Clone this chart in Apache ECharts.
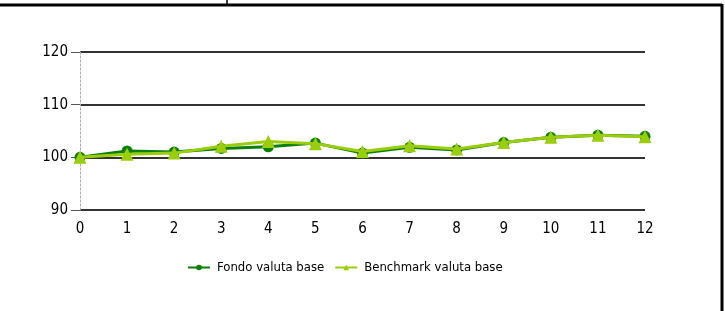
<!DOCTYPE html>
<html>
<head>
<meta charset="utf-8">
<script src="https://cdn.jsdelivr.net/npm/echarts@6/dist/echarts.min.js"></script>
<style>
  html, body { margin: 0; padding: 0; background: #fff; }
  #main { width: 725px; height: 311px; }
</style>
</head>
<body>
<div id="main"></div>
<script>
var categories = ['0', '1', '2', '3', '4', '5', '6', '7', '8', '9', '10', '11', '12'];
var fondo = [100, 101.2, 101.0, 101.7, 102.0, 102.7, 100.8, 101.9, 101.4, 102.8, 103.8, 104.2, 104.0];
var benchmark = [100, 100.6, 100.8, 102.1, 103.0, 102.6, 101.1, 102.2, 101.6, 102.8, 103.8, 104.2, 103.9];

var chart = echarts.init(document.getElementById('main'));
var fontFamily = '"Liberation Sans Narrow", "DejaVu Sans Condensed", sans-serif';

var option = {
  animation: false,
  backgroundColor: '#fff',
  color: ['#0a7f0a', '#9acd0c'],
  textStyle: { fontFamily: fontFamily },
  grid: { left: 80, right: 80, top: 52, bottom: 101 },
  legend: {
    bottom: 37,
    left: 187,
    padding: 0,
    itemWidth: 22,
    itemHeight: 7,
    itemGap: 10,
    textStyle: { fontSize: 13, color: '#000', fontFamily: fontFamily, padding: [0, 0, 0, 2] },
    data: ['Fondo valuta base', 'Benchmark valuta base']
  },
  xAxis: {
    type: 'category',
    data: categories,
    boundaryGap: false,
    axisLine: { show: false },
    axisTick: { show: false },
    axisLabel: { color: '#000', fontSize: 15, margin: 12 }
  },
  yAxis: {
    type: 'value',
    min: 90,
    max: 120,
    interval: 10,
    axisLine: { show: true, lineStyle: { color: '#aaa', type: [2, 2], width: 1 } },
    axisTick: { show: true, length: 9, lineStyle: { color: '#555' } },
    axisLabel: { color: '#000', fontSize: 15, margin: 12 },
    splitLine: { lineStyle: { color: '#333', width: 2 } }
  },
  series: [
    {
      name: 'Fondo valuta base',
      type: 'line',
      data: fondo,
      symbol: 'circle',
      symbolSize: 11,
      lineStyle: { width: 3 },
      z: 2
    },
    {
      name: 'Benchmark valuta base',
      type: 'line',
      data: benchmark,
      symbol: 'triangle',
      symbolSize: 13,
      lineStyle: { width: 3 },
      z: 3
    }
  ],
  graphic: [
    { type: 'line', shape: { x1: 0, y1: 5, x2: 722, y2: 5 }, style: { stroke: '#000', lineWidth: 3 } },
    { type: 'line', shape: { x1: 722, y1: 4, x2: 722, y2: 311 }, style: { stroke: '#000', lineWidth: 3 } },
    { type: 'line', shape: { x1: 227, y1: 0, x2: 227, y2: 5 }, style: { stroke: '#000', lineWidth: 1.5 } }
  ]
};

chart.setOption(option);
</script>
</body>
</html>
